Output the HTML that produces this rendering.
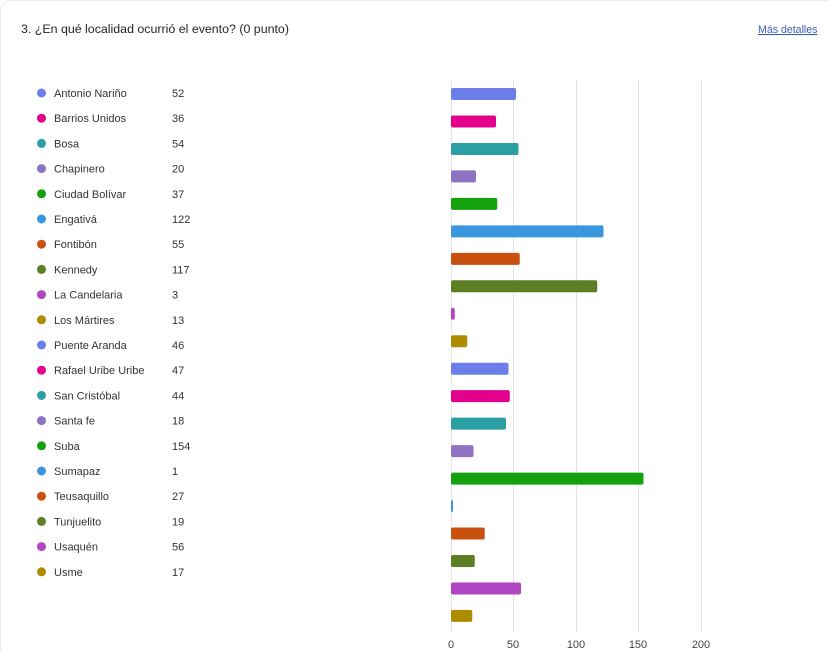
<!DOCTYPE html>
<html><head><meta charset="utf-8"><style>
body{margin:0;background:#fff;font-family:"Liberation Sans",sans-serif;}
</style></head><body>
<svg width="828" height="651" xmlns="http://www.w3.org/2000/svg" font-family="Liberation Sans, sans-serif">
<rect x="0" y="0" width="828" height="651" fill="#fff"/>
<path d="M0.5 651 V12 Q0.5 0.5 12 0.5 H828" fill="none" stroke="#ebebeb"/>
<text x="21" y="33" font-size="12.4" fill="#242424">3. ¿En qué localidad ocurrió el evento? (0 punto)</text>
<text x="758" y="33" font-size="10.6" fill="#3b5bb8" text-decoration="underline">Más detalles</text>
<g stroke="#e4e4e4" stroke-width="1">
<line x1="451.5" y1="80" x2="451.5" y2="632"/>
<line x1="513.5" y1="80" x2="513.5" y2="632"/>
<line x1="576.5" y1="80" x2="576.5" y2="632"/>
<line x1="638.5" y1="80" x2="638.5" y2="632"/>
<line x1="701.5" y1="80" x2="701.5" y2="632"/>
</g>
<g font-size="11" fill="#444" text-anchor="middle">
<text x="451" y="648">0</text><text x="513" y="648">50</text><text x="576" y="648">100</text><text x="638" y="648">150</text><text x="701" y="648">200</text>
</g>
<g id="rows" font-size="11" fill="#333"></g>
</svg>
<script>
var d=[["Antonio Nariño",52,"#6b7ee9"],["Barrios Unidos",36,"#e3008c"],["Bosa",54,"#2aa0a4"],["Chapinero",20,"#8e72c4"],["Ciudad Bolívar",37,"#13a10e"],["Engativá",122,"#3a96dd"],["Fontibón",55,"#ca5010"],["Kennedy",117,"#5b7f22"],["La Candelaria",3,"#b146c2"],["Los Mártires",13,"#ae8c00"],["Puente Aranda",46,"#6b7ee9"],["Rafael Uribe Uribe",47,"#e3008c"],["San Cristóbal",44,"#2aa0a4"],["Santa fe",18,"#8e72c4"],["Suba",154,"#13a10e"],["Sumapaz",1,"#3a96dd"],["Teusaquillo",27,"#ca5010"],["Tunjuelito",19,"#5b7f22"],["Usaquén",56,"#b146c2"],["Usme",17,"#ae8c00"]];
var g=document.getElementById("rows"),s="";
d.forEach(function(r,i){
var ly=93+i*25.2, by=94+i*27.47;
s+='<circle cx="41.5" cy="'+ly+'" r="4.5" fill="'+r[2]+'"/>';
s+='<text x="54" y="'+(ly+4)+'">'+r[0]+'</text><text x="172" y="'+(ly+4)+'">'+r[1]+'</text>';
var w=Math.max(r[1]*1.25,2);
s+='<rect x="451" y="'+(by-6)+'" width="'+w+'" height="12" rx="2" fill="'+r[2]+'"/>';
});
g.innerHTML=s;
</script>
</body></html>
